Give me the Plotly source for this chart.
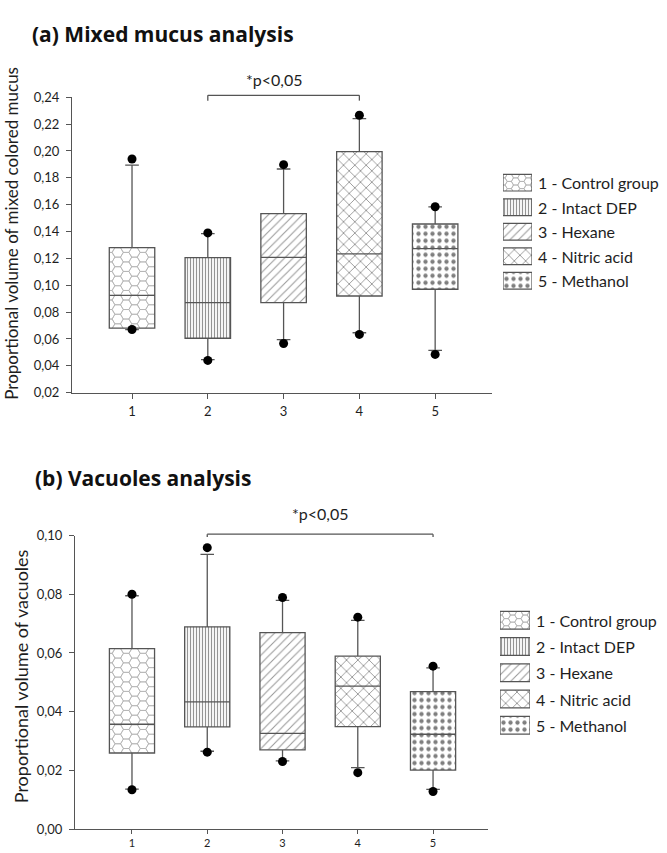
import math
import base64
import plotly.graph_objects as go

# ---------------- data ----------------
groups = ["1 - Control group", "2 - Intact DEP", "3 - Hexane", "4 - Nitric acid", "5 - Methanol"]
positions = [1, 2, 3, 4, 5]
tick_text = ["1", "2", "3", "4", "5"]

# panel (a) mixed mucus
a_q1 = [0.068, 0.0605, 0.087, 0.092, 0.097]
a_med = [0.0924, 0.0871, 0.1207, 0.1234, 0.1273]
a_q3 = [0.128, 0.1205, 0.1534, 0.1995, 0.1456]
a_low = [0.067, 0.0446, 0.0595, 0.0646, 0.0515]
a_high = [0.1895, 0.1385, 0.1866, 0.2241, 0.1583]
a_dot_low = [0.067, 0.044, 0.0566, 0.0634, 0.0485]
a_dot_high = [0.194, 0.139, 0.1898, 0.2266, 0.1585]

# panel (b) vacuoles
b_q1 = [0.0259, 0.0348, 0.027, 0.0349, 0.0201]
b_med = [0.0357, 0.0433, 0.0326, 0.0487, 0.0323]
b_q3 = [0.0615, 0.0689, 0.0669, 0.0589, 0.0468]
b_low = [0.0136, 0.0265, 0.0232, 0.0209, 0.0135]
b_high = [0.0795, 0.0936, 0.0779, 0.0711, 0.0549]
b_dot_low = [0.0134, 0.0262, 0.023, 0.0192, 0.0128]
b_dot_high = [0.080, 0.0959, 0.0789, 0.0722, 0.0555]

a_bracket = (2, 4, 0.2415, 0.2375)
b_bracket = (2, 5, 0.1005, 0.0995)
p_text = "*p<0,05"

# ---------------- geometry / style ----------------
W, H = 667, 853
LINE = "#555555"
TXT = "#1e1e1e"
FONT = "Lato"
BOX_W = 0.6

a_xdom = [72 / W, 492 / W]
a_ydom = [1 - 392 / H, 1 - 91 / H]
a_xrng = [0.208, 5.75]
a_yrng = [0.02, 0.24]

b_xdom = [75 / W, 488 / W]
b_ydom = [1 - 836.7 / H, 1 - 537.7 / H]
b_xrng = [0.243, 5.73]
b_yrng = [0.0, 0.10]

patterns = [
    None,  # honeycomb, drawn as an image
    dict(shape="|", fgcolor="#2a2a2a", bgcolor="white", size=3, solidity=0.4),
    dict(shape="/", fgcolor="#333333", bgcolor="white", size=6, solidity=0.18),
    dict(shape="x", fgcolor="#333333", bgcolor="white", size=8, solidity=0.22),
    dict(shape=".", fgcolor="#000000", bgcolor="white", size=7, solidity=0.3),
]


def honeycomb_uri(w, h, r=5.6, stroke="#b3b3b3"):
    dx = 1.5 * r
    dy = math.sqrt(3) * r
    polys = []
    col = 0
    x = 0.0
    while x - r < w:
        off = dy / 2 if col % 2 else 0.0
        y = off - dy
        while y - dy / 2 < h:
            pts = " ".join(
                f"{x + r * math.cos(math.radians(a)):.2f},{y + r * math.sin(math.radians(a)):.2f}"
                for a in range(0, 360, 60)
            )
            polys.append(f'<polygon points="{pts}"/>')
            y += dy
        x += dx
        col += 1
    svg = (
        f'<svg xmlns="http://www.w3.org/2000/svg" width="{w:.2f}" height="{h:.2f}" '
        f'viewBox="0 0 {w:.2f} {h:.2f}" preserveAspectRatio="none">'
        f'<rect x="0" y="0" width="{w:.2f}" height="{h:.2f}" fill="white"/>'
        f'<g fill="none" stroke="{stroke}" stroke-width="0.8">{"".join(polys)}</g></svg>'
    )
    return "data:image/svg+xml;base64," + base64.b64encode(svg.encode()).decode()


def to_paper_y(v, dom, rng):
    return dom[0] + (v - rng[0]) / (rng[1] - rng[0]) * (dom[1] - dom[0])


fig = go.Figure()
images = []
shapes = []
annotations = []


def add_panel(xa, ya, q1, med, q3, low, high, dlow, dhigh, xdom, ydom, xrng, yrng):
    for i, p in enumerate(positions):
        if patterns[i] is None:
            pxw = (xdom[1] - xdom[0]) * W / (xrng[1] - xrng[0]) * BOX_W
            pxh = (ydom[1] - ydom[0]) * H / (yrng[1] - yrng[0]) * (q3[i] - q1[i])
            images.append(dict(
                source=honeycomb_uri(pxw, pxh), xref=xa, yref=ya,
                x=p - BOX_W / 2, y=q3[i], sizex=BOX_W, sizey=q3[i] - q1[i],
                sizing="stretch", xanchor="left", yanchor="top", layer="below"))
        else:
            fig.add_trace(go.Bar(
                x=[p], y=[q3[i] - q1[i]], base=[q1[i]], width=BOX_W, name=groups[i],
                marker=dict(color="white", pattern=patterns[i], line=dict(width=0)),
                xaxis=xa, yaxis=ya, showlegend=False, hoverinfo="skip"))
    fig.add_trace(go.Box(
        x=positions, q1=q1, median=med, q3=q3, lowerfence=low, upperfence=high,
        width=BOX_W, whiskerwidth=0.3, fillcolor="rgba(0,0,0,0)",
        line=dict(color=LINE, width=1.3), boxpoints=False,
        xaxis=xa, yaxis=ya, showlegend=False, hoverinfo="skip"))
    fig.add_trace(go.Scatter(
        x=positions + positions, y=dlow + dhigh, mode="markers",
        marker=dict(color="black", size=9), xaxis=xa, yaxis=ya,
        showlegend=False, hoverinfo="skip"))


def add_legend(xa, ya, x0px, x1px, first_px, last_px, sw_h, text_x, fsize):
    n = len(groups)
    step = (last_px - first_px) / (n - 1)
    top = first_px - step / 2
    bot = last_px + step / 2
    bw = sw_h / step
    for i in range(n):
        if patterns[i] is None:
            images.append(dict(
                source=honeycomb_uri(x1px - x0px, sw_h, r=4.2), xref=xa, yref=ya,
                x=0, y=i - bw / 2, sizex=1, sizey=bw, sizing="stretch",
                xanchor="left", yanchor="top", layer="below"))
            pat = None
        else:
            pat = patterns[i]
        fig.add_trace(go.Bar(
            y=[i], x=[1], base=[0], width=bw, orientation="h", name=groups[i],
            marker=dict(color="rgba(0,0,0,0)" if pat is None else "white",
                        pattern=pat if pat else dict(shape=""),
                        line=dict(color=LINE, width=1.2)),
            xaxis=xa, yaxis=ya, showlegend=False, hoverinfo="skip"))
        annotations.append(dict(
            text=groups[i], xref="paper", yref=ya, x=text_x / W, y=i,
            xanchor="left", yanchor="middle", showarrow=False,
            font=dict(family=FONT, size=fsize, color=TXT)))
    return (dict(domain=[x0px / W, x1px / W], range=[0, 1], visible=False, fixedrange=True),
            dict(domain=[1 - bot / H, 1 - top / H], range=[n - 0.5, -0.5], visible=False,
                 fixedrange=True))


add_panel("x", "y", a_q1, a_med, a_q3, a_low, a_high, a_dot_low, a_dot_high,
          a_xdom, a_ydom, a_xrng, a_yrng)
add_panel("x2", "y2", b_q1, b_med, b_q3, b_low, b_high, b_dot_low, b_dot_high,
          b_xdom, b_ydom, b_xrng, b_yrng)
leg3x, leg3y = add_legend("x3", "y3", 503, 532, 178, 278, 17, 536, 16)
leg4x, leg4y = add_legend("x4", "y4", 500, 530, 624, 731, 18, 534, 16)
leg3x["anchor"] = "y3"
leg3y["anchor"] = "x3"
leg4x["anchor"] = "y4"
leg4y["anchor"] = "x4"

# significance brackets
for xa, br, ydom, yrng in [("x", a_bracket, a_ydom, a_yrng), ("x2", b_bracket, b_ydom, b_yrng)]:
    x0, x1, ytop, yend = br
    yt = to_paper_y(ytop, ydom, yrng)
    ye = to_paper_y(yend, ydom, yrng)
    for (xs, ys, xe, yee) in [(x0, ye, x0, yt), (x0, yt, x1, yt), (x1, yt, x1, ye)]:
        shapes.append(dict(type="line", xref=xa, yref="paper", x0=xs, y0=ys, x1=xe, y1=yee,
                           line=dict(color=LINE, width=1.3)))

annotations += [
    dict(text="<b>(a) Mixed mucus analysis</b>", xref="paper", yref="paper",
         x=30 / W, y=1 - 27 / H, xanchor="left", yanchor="middle", showarrow=False,
         font=dict(family="Open Sans", size=21, color="#111111")),
    dict(text="<b>(b) Vacuoles analysis</b>", xref="paper", yref="paper",
         x=33 / W, y=1 - 479 / H, xanchor="left", yanchor="middle", showarrow=False,
         font=dict(family="Open Sans", size=21, color="#111111")),
    dict(text=p_text, xref="x", yref="paper", x=(a_bracket[0] + a_bracket[1]) / 2,
         xshift=-9, y=1 - 73 / H, xanchor="center", yanchor="middle", showarrow=False,
         font=dict(family=FONT, size=16, color=TXT)),
    dict(text=p_text, xref="x2", yref="paper", x=(b_bracket[0] + b_bracket[1]) / 2,
         y=1 - 515 / H, xanchor="center", yanchor="middle", showarrow=False,
         font=dict(family=FONT, size=16, color=TXT)),
    dict(text="Proportional volume of mixed colored mucus", xref="paper", yref="paper",
         x=12 / W, y=1 - 230 / H, textangle=-90, xanchor="center", yanchor="middle",
         showarrow=False, font=dict(family=FONT, size=17, color=TXT)),
    dict(text="Proportional volume of vacuoles", xref="paper", yref="paper",
         x=21 / W, y=1 - 681 / H, textangle=-90, xanchor="center", yanchor="middle",
         showarrow=False, font=dict(family=FONT, size=18, color=TXT)),
]

axis_common = dict(showline=True, linecolor=LINE, linewidth=1.3, ticks="outside",
                   tickwidth=1.2, tickcolor=LINE, showgrid=False, zeroline=False,
                   fixedrange=True)

fig.update_layout(
    width=W, height=H, margin=dict(l=0, r=0, t=0, b=0),
    paper_bgcolor="white", plot_bgcolor="rgba(0,0,0,0)",
    separators=",.", barmode="overlay", boxmode="overlay", showlegend=False,
    font=dict(family=FONT, color=TXT),
    xaxis=dict(domain=a_xdom, range=a_xrng, tickvals=positions, ticktext=tick_text,
               anchor="y", ticklen=5, ticklabelstandoff=2,
               tickfont=dict(family=FONT, size=13, color=TXT), **axis_common),
    yaxis=dict(domain=a_ydom, range=a_yrng, tick0=0.02, dtick=0.02, tickformat=".2f",
               anchor="x", ticklen=5, ticklabelstandoff=4,
               tickfont=dict(family=FONT, size=13, color=TXT), **axis_common),
    xaxis2=dict(domain=b_xdom, range=b_xrng, tickvals=positions, ticktext=tick_text,
                anchor="y2", automargin=False, ticklen=4, ticklabelstandoff=0,
                tickfont=dict(family=FONT, size=11, color=TXT), **axis_common),
    yaxis2=dict(domain=b_ydom, range=b_yrng, tick0=0, dtick=0.02, tickformat=".2f",
                anchor="x2", ticklen=5, ticklabelstandoff=4,
                tickfont=dict(family=FONT, size=13, color=TXT), **axis_common),
    xaxis3=leg3x, yaxis3=leg3y, xaxis4=leg4x, yaxis4=leg4y,
    images=images,
    shapes=shapes,
    annotations=annotations,
)

fig.write_html("out.html")
